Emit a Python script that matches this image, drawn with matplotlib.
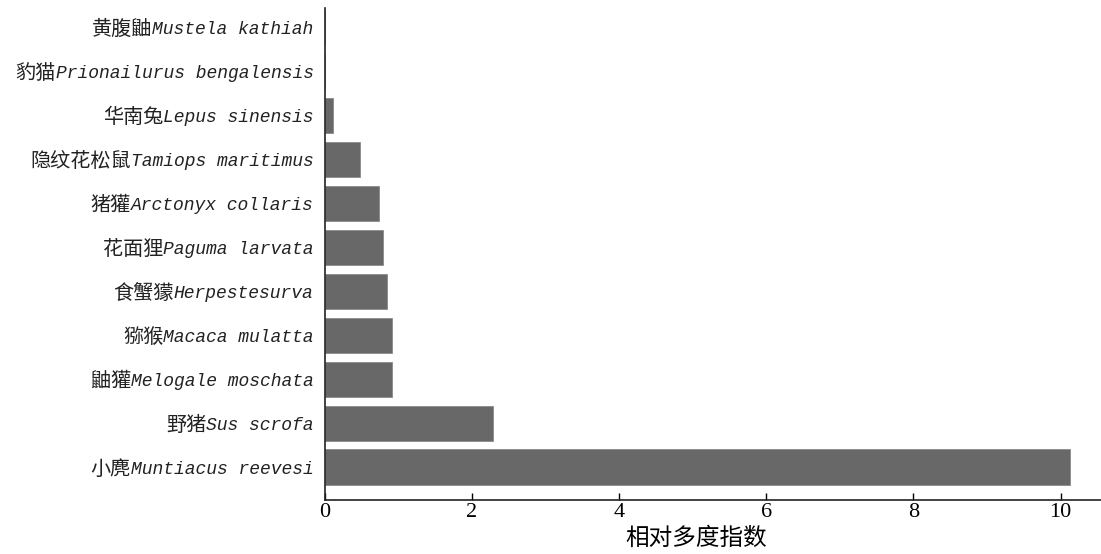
import matplotlib
matplotlib.use("Agg")
import matplotlib.pyplot as plt
import numpy as np

# species, bottom to top
species_cn = ["小麂", "野猪", "鼬獾", "猕猴", "食蟹獴", "花面狸", "猪獾",
              "隐纹花松鼠", "华南兔", "豹猫", "黄腹鼬"]
species_la = ["Muntiacus reevesi", "Sus scrofa", "Melogale moschata",
              "Macaca mulatta", "Herpestesurva", "Paguma larvata",
              "Arctonyx collaris", "Tamiops maritimus", "Lepus sinensis",
              "Prionailurus bengalensis", "Mustela kathiah"]
rai = [10.13, 2.28, 0.92, 0.91, 0.84, 0.79, 0.73, 0.48, 0.11, 0.006, 0.005]
xticks = [0, 2, 4, 6, 8, 10]
xlabel = "相对多度指数"

fig = plt.figure(figsize=(11.01, 5.54), dpi=100)
ax = fig.add_axes([0.295, 0.0975, 0.705, 0.888])

ypos = np.arange(len(rai))
ax.barh(ypos, rai, height=0.8, color="#686868", edgecolor="#8a8a8a", linewidth=0.6)

ax.set_ylim(-0.75, 10.45)
ax.set_xlim(0, 10.55)
ax.set_yticks(ypos)
ax.set_yticklabels([])
ax.tick_params(axis="y", length=0)

# two-part labels: latin name in italic mono, chinese name just left of it
for y, cn, la in zip(ypos, species_cn, species_la):
    t = ax.annotate(la, xy=(0, y), xycoords=("axes fraction", "data"),
                    xytext=(-8, -1.5), textcoords="offset points",
                    ha="right", va="center", family="Liberation Mono",
                    style="italic", fontsize=13, color="#222222")
    ax.annotate(cn, xy=(0, 0.5), xycoords=t, ha="right", va="center",
                family="Noto Sans CJK SC", fontsize=14.5, color="#222222")

ax.set_xticks(xticks)
ax.set_xticklabels([str(t) for t in xticks], family="Liberation Serif", fontsize=16)
ax.tick_params(axis="x", direction="in", length=5, width=1, pad=2)
ax.set_xlabel(xlabel, family=["Noto Sans CJK SC", "DejaVu Sans"], fontsize=17)
ax.xaxis.set_label_coords(0.478, -0.055)

for s in ["top", "right"]:
    ax.spines[s].set_visible(False)
for s in ["left", "bottom"]:
    ax.spines[s].set_linewidth(1.2)
    ax.spines[s].set_color("#222222")

fig.savefig("out.png", dpi=100)
